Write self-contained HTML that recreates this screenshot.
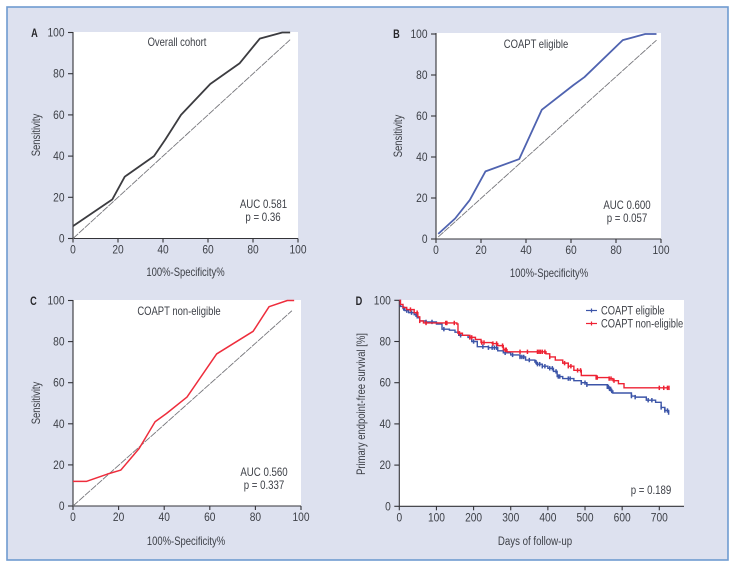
<!DOCTYPE html>
<html lang="en">
<head>
<meta charset="utf-8">
<title>ROC and survival curves by COAPT eligibility</title>
<style>
html,body{margin:0;padding:0;background:#fff}
svg{display:block}
text{font-family:"Liberation Sans",sans-serif;font-size:11.6px;fill:#3d4047}
.panel-letter{font-weight:bold;fill:#26262a;font-size:11.5px}
</style>
</head>
<body>
<svg id="figure" width="735" height="568" viewBox="0 0 735 568" xmlns="http://www.w3.org/2000/svg">
  <rect x="7" y="7" width="721" height="553" fill="#dde1ef" stroke="#6f9bd0" stroke-width="1.6"/>
  <g id="panel-a"></g>
  <g id="panel-b"></g>
  <g id="panel-c"></g>
  <g id="panel-d"></g>
</svg>
<script>
// ---- Chart data ----
const rocTicks = [0, 20, 40, 60, 80, 100];
const rocAx = [0, 17.5, 23, 36, 41, 48, 61, 74, 83, 93, 96.5];
const rocAy = [6, 19, 30, 40, 48, 60, 75, 85, 97, 100, 100];
const refAx = [0, 96.5];
const refAy = [0, 96.5];
const rocBx = [1, 8.5, 15, 22, 37, 47, 61, 66, 83, 93, 98];
const rocBy = [2.5, 10, 19, 33, 39, 63, 75, 79, 97, 100, 100];
const refBx = [1, 98];
const refBy = [1, 97];
const rocCx = [0, 6, 15, 21, 29, 36, 41, 50, 63, 79, 86, 94, 97];
const rocCy = [12, 12, 15.5, 17.5, 28, 41, 45, 53, 74, 85, 97, 100, 100];
const refCx = [0, 96];
const refCy = [0, 95];

const daysTicks = [0, 100, 200, 300, 400, 500, 600, 700];
const survTicks = [0, 20, 40, 60, 80, 100];
const eligibleDays = [0, 3, 10, 15, 25, 40, 48, 55, 70, 100, 115, 135, 150, 160, 185, 195, 210, 240, 265, 280, 300, 325, 340, 365, 370, 385, 400, 415, 425, 440, 470, 490, 505, 560, 565, 570, 575, 625, 635, 665, 690, 705, 715, 725];
const eligibleSurv = [100, 97, 96, 95, 94, 93, 91.5, 90, 89.5, 88.5, 86, 85.5, 84.5, 83, 82, 80, 77.5, 77, 75.5, 74.5, 73.5, 72.5, 71, 70, 69, 68, 67, 65.5, 63, 62, 61, 60, 59, 58, 57, 56, 55, 53.5, 53, 51.5, 50.5, 48, 46.5, 45.5];
const eligibleCensored = [12, 20, 33, 45, 72, 88, 120, 165, 190, 200, 225, 240, 250, 256, 262, 285, 305, 325, 330, 335, 350, 368, 372, 378, 385, 392, 405, 412, 422, 428, 432, 455, 460, 490, 500, 505, 560, 563, 566, 569, 572, 625, 635, 670, 680, 705, 715, 722, 725];
const nonEligibleDays = [0, 3, 10, 20, 40, 50, 55, 65, 155, 158, 170, 190, 205, 220, 250, 265, 280, 290, 345, 395, 405, 420, 440, 455, 470, 490, 530, 565, 575, 590, 605, 725];
const nonEligibleSurv = [100, 98, 96.5, 95.5, 94, 92, 90, 89, 88.5, 84, 83, 82, 81, 79.5, 79, 78, 76, 75, 75, 74, 72.5, 71, 69.5, 68, 66, 63.5, 62.5, 62, 61, 59.5, 57.5, 57.5];
const nonEligibleCensored = [30, 48, 55, 72, 125, 128, 148, 162, 190, 195, 222, 228, 252, 262, 278, 285, 288, 325, 345, 372, 376, 380, 385, 392, 405, 445, 455, 462, 480, 488, 530, 533, 565, 570, 578, 700, 712, 722, 726];

// ---- Drawing helpers ----
const NS = 'http://www.w3.org/2000/svg';
function mk(parent, tag, attrs, name) {
  const el = document.createElementNS(NS, tag);
  Object.keys(attrs).forEach(function (k) { el.setAttribute(k, attrs[k]); });
  
  
  parent.appendChild(el);
  return el;
}
function label(parent, str, x, y, anchor, sx, name, rotate) {
  const tf = 'translate(' + x + ' ' + y + ')' + (rotate ? ' rotate(-90)' : '') + ' scale(' + sx + ' 1)';
  const el = mk(parent, 'text', { transform: tf, 'text-anchor': anchor }, name);
  el.textContent = str;
  return el;
}
function polyline(parent, xs, ys, sx, sy, attrs, name) {
  const pts = xs.map(function (v, i) { return sx(v).toFixed(2) + ',' + sy(ys[i]).toFixed(2); }).join(' ');
  const full = Object.assign({ points: pts, fill: 'none' }, attrs);
  return mk(parent, 'polyline', full, name);
}
function stepValue(days, surv, d) {
  let v = surv[0];
  for (let i = 0; i < days.length; i++) { if (days[i] <= d) v = surv[i]; }
  return v;
}
function axes(g, f, xTicks, yTicks, sx, sy) {
  mk(g, 'rect', { x: f.left, y: f.top, width: f.right - f.left, height: f.y0 - f.top, fill: '#fff' }, 'plot-area');
  mk(g, 'line', { x1: f.x0, x2: f.right, y1: f.y0, y2: f.y0, stroke: '#333338', 'stroke-width': 1.1 }, 'x-axis');
  mk(g, 'line', { x1: f.x0, x2: f.x0, y1: f.top, y2: f.y0, stroke: '#333338', 'stroke-width': 1.1 }, 'y-axis');
  xTicks.forEach(function (t) {
    mk(g, 'line', { x1: sx(t), x2: sx(t), y1: f.y0, y2: f.y0 + 4, stroke: '#333338', 'stroke-width': 1.1 }, 'x-tick');
    label(g, String(t), sx(t), f.y0 + 15, 'middle', 0.88, 'x-tick-label');
  });
  yTicks.forEach(function (t) {
    mk(g, 'line', { x1: f.x0 - 5, x2: f.x0, y1: sy(t), y2: sy(t), stroke: '#333338', 'stroke-width': 1.1 }, 'y-tick');
    label(g, String(t), f.x0 - 8.5, sy(t) + 4, 'end', 0.88, 'y-tick-label');
  });
}
function rocPanel(id, f, xs, ys, rx, ry, color, t) {
  const g = document.getElementById(id);
  const sx = function (v) { return f.x0 + (f.x100 - f.x0) * v / 100; };
  const sy = function (v) { return f.y0 + (f.y100 - f.y0) * v / 100; };
  axes(g, f, rocTicks, rocTicks, sx, sy);
  polyline(g, rx, ry, sx, sy, { stroke: '#77777c', 'stroke-width': 0.9, 'stroke-dasharray': '7 1' }, 'reference-diagonal');
  polyline(g, xs, ys, sx, sy, { stroke: color, 'stroke-width': f.lw, 'stroke-linejoin': 'round' }, 'roc-curve');
  const letter = label(g, t.letter, t.lx, t.ly, 'middle', 0.8, 'panel-letter');
  letter.setAttribute('class', 'panel-letter');
  label(g, t.title, t.tx, t.ty, 'middle', 0.815, 'panel-title');
  label(g, t.auc, t.ax, t.ay, 'middle', 0.835, 'auc-value');
  label(g, t.p, t.px, t.ay + 13, 'middle', 0.835, 'p-value');
  label(g, '100%-Specificity%', t.xx, t.xy, 'middle', 0.815, 'x-axis-title');
  label(g, 'Sensitivity', t.yx, t.yy, 'middle', 0.815, 'y-axis-title', true);
}

// ---- Panels A, B, C ----
rocPanel('panel-a', { left: 73, right: 298, top: 32, x0: 73, x100: 298, y0: 238.5, y100: 32.5, lw: 1.8 },
  rocAx, rocAy, refAx, refAy, '#3c3c40',
  { letter: 'A', lx: 34.5, ly: 37, title: 'Overall cohort', tx: 177, ty: 46, auc: 'AUC 0.581', ax: 263.5, ay: 208, p: 'p = 0.36', px: 263, xx: 185.5, xy: 276, yx: 40, yy: 135 });
rocPanel('panel-b', { left: 436, right: 661, top: 33, x0: 436, x100: 661, y0: 239, y100: 34, lw: 1.8 },
  rocBx, rocBy, refBx, refBy, '#4f63b0',
  { letter: 'B', lx: 396.5, ly: 38, title: 'COAPT eligible', tx: 536, ty: 48, auc: 'AUC 0.600', ax: 627, ay: 209, p: 'p = 0.057', px: 627, xx: 549, xy: 277, yx: 402, yy: 136 });
rocPanel('panel-c', { left: 73, right: 301, top: 300, x0: 73, x100: 301, y0: 506, y100: 300.5, lw: 1.5 },
  rocCx, rocCy, refCx, refCy, '#ee2d3c',
  { letter: 'C', lx: 33.5, ly: 305, title: 'COAPT non-eligible', tx: 179, ty: 315, auc: 'AUC 0.560', ax: 264, ay: 476, p: 'p = 0.337', px: 264, xx: 186, xy: 545, yx: 40, yy: 403 });

// ---- Panel D ----
(function () {
  const g = document.getElementById('panel-d');
  const f = { left: 399, right: 684, top: 300, x0: 399.3, y0: 506.3 };
  const sx = function (d) { return 399.3 + d * 260 / 700; };
  const sy = function (v) { return 506.3 - v * 2.06; };
  axes(g, f, daysTicks, survTicks, sx, sy);

  function series(days, surv, censored, color, name) {
    const xs = [days[0]], ys = [surv[0]];
    for (let i = 1; i < days.length; i++) {
      xs.push(days[i]); ys.push(surv[i - 1]);
      xs.push(days[i]); ys.push(surv[i]);
    }
    polyline(g, xs, ys, sx, sy, { stroke: color, 'stroke-width': 1.4 }, name + '-curve');
    censored.forEach(function (d) {
      const v = stepValue(days, surv, d);
      mk(g, 'line', { x1: sx(d), x2: sx(d), y1: sy(v) - 2.2, y2: sy(v) + 2.2, stroke: color, 'stroke-width': 1.5 }, name + '-censor-mark');
    });
  }
  series(eligibleDays, eligibleSurv, eligibleCensored, '#3c55a8', 'coapt-eligible');
  series(nonEligibleDays, nonEligibleSurv, nonEligibleCensored, '#ee2233', 'coapt-non-eligible');

  mk(g, 'line', { x1: 586, x2: 597, y1: 310.5, y2: 310.5, stroke: '#3c55a8', 'stroke-width': 1.2 }, 'legend-line-eligible');
  mk(g, 'line', { x1: 591.5, x2: 591.5, y1: 308.5, y2: 312.5, stroke: '#3c55a8', 'stroke-width': 1.2 }, 'legend-marker-eligible');
  label(g, 'COAPT eligible', 601, 314.5, 'start', 0.805, 'legend-label-eligible');
  mk(g, 'line', { x1: 586, x2: 597, y1: 323.5, y2: 323.5, stroke: '#ee2233', 'stroke-width': 1.2 }, 'legend-line-non-eligible');
  mk(g, 'line', { x1: 591.5, x2: 591.5, y1: 321.5, y2: 325.5, stroke: '#ee2233', 'stroke-width': 1.2 }, 'legend-marker-non-eligible');
  label(g, 'COAPT non-eligible', 601, 327.5, 'start', 0.805, 'legend-label-non-eligible');

  const letter = label(g, 'D', 359, 305, 'middle', 0.8, 'panel-letter');
  letter.setAttribute('class', 'panel-letter');
  label(g, 'p = 0.189', 651, 494, 'middle', 0.835, 'p-value');
  label(g, 'Days of follow-up', 535, 545, 'middle', 0.835, 'x-axis-title');
  label(g, 'Primary endpoint-free survival [%]', 365, 404, 'middle', 0.815, 'y-axis-title', true);
})();
</script>
</body>
</html>
